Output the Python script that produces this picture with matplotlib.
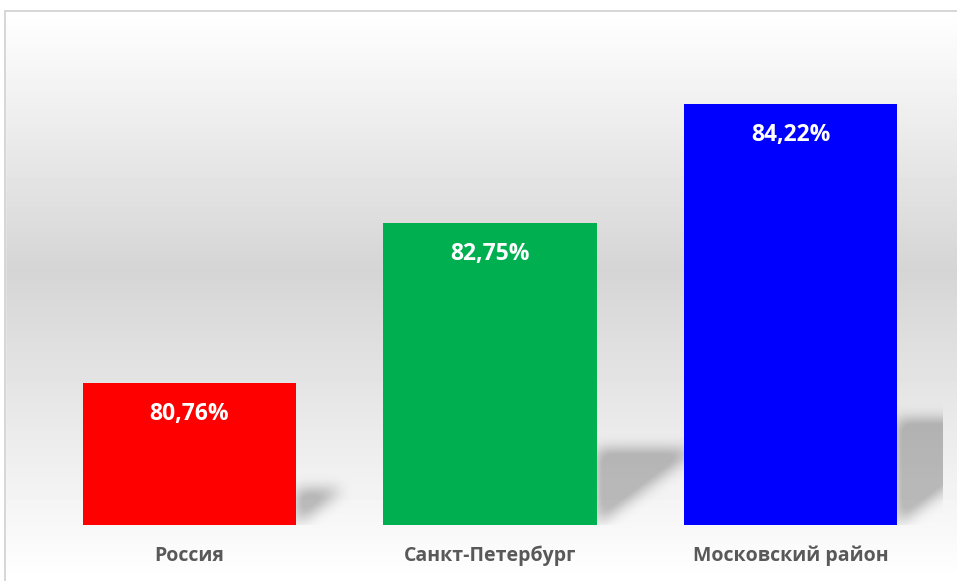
import matplotlib
matplotlib.use('Agg')
import matplotlib.pyplot as plt
from matplotlib.patches import Rectangle
import numpy as np

plt.rcParams['font.family'] = ['Open Sans', 'DejaVu Sans']

# data
categories = ['Россия', 'Санкт-Петербург', 'Московский район']
values = [80.76, 82.75, 84.22]
labels = ['80,76%', '82,75%', '84,22%']
bar_colors = ['#ff0000', '#00b050', '#0000ff']

W, H = 957, 581
fig = plt.figure(figsize=(W / 100, H / 100), dpi=100)

# background gradient (chart area)
bg = fig.add_axes([0, 0, 1, 1])
ys = np.linspace(0, 1, H)
stops_y = [0.0, 11 / H, 270 / H, 1.0]
stops_v = [1.0, 1.0, 0.835, 1.0]
grad = np.interp(ys, stops_y, stops_v)
bg.imshow(np.tile(grad[:, None], (1, 10)), cmap='gray', vmin=0, vmax=1,
          aspect='auto', extent=[0, 1, 0, 1], origin='upper')
bg.set_xlim(0, 1)
bg.set_ylim(0, 1)
bg.axis('off')
# white outside the outer border
bg.add_patch(Rectangle((0, 1 - 11 / H), 1, 11 / H, color='white', zorder=2))
bg.add_patch(Rectangle((0, 0), 5 / W, 1, color='white', zorder=2))
bg.add_patch(Rectangle((5 / W, -0.1), 1.1, 1 - 11 / H + 0.1, fill=False,
                       edgecolor='#d0d0d0', linewidth=1.2, zorder=3))

# plot area
ax = fig.add_axes([39 / W, 56 / H, 904 / W, 513 / H])
ax.patch.set_alpha(0)
ymin, ymax = 79.0, 85.36
x = np.arange(len(categories))
width = 0.71
xmax = len(categories) - 0.5 + 0.007
ax.set_xlim(-0.5, xmax)
ax.set_ylim(ymin, ymax)

# soft perspective shadows behind the bars (grid padded to the right so the
# plot-area edge stays sharp after blurring)
pad = 60
step = (xmax + 0.5) / 904
gx = -0.5 + step * (np.arange(904 + pad) + 0.5)
gy = np.linspace(ymax, ymin, 513)
GX, GY = np.meshgrid(gx, gy)
mask = np.zeros_like(GX)
k = 0.75 * (902 / 3.0) / (513 / (ymax - ymin))
for xi, v in zip(x, values):
    xr = xi + width / 2
    ytop = ymin + 0.25 * (v - ymin)
    m = (GX >= xr) & (GY <= ytop) & (GY >= ymin + k * (GX - xr))
    mask[m] = 1.0
kern = np.exp(-0.5 * (np.arange(-24, 25) / 7.0) ** 2)
kern /= kern.sum()
mask = np.apply_along_axis(lambda r: np.convolve(r, kern, mode='same'), 1, mask)
mask = np.apply_along_axis(lambda c: np.convolve(c, kern, mode='same'), 0, mask)
mask = mask[:, :904]
shadow = np.zeros((513, 904, 4))
shadow[..., 3] = 0.24 * np.clip(mask * 1.3, 0, 1)
ax.imshow(shadow, extent=[-0.5, xmax, ymin, ymax], aspect='auto',
          origin='upper', zorder=1)

bars = ax.bar(x, values, width=width, color=bar_colors, zorder=2, bottom=0)
ax.set_ylim(ymin, ymax)

for xi, v, lab in zip(x, values, labels):
    ax.annotate(lab, (xi, v), xytext=(0, -22.5), textcoords='offset points',
                ha='center', va='center', color='white', fontsize=16.5,
                fontweight='bold', zorder=3)

ax.set_xticks(x)
ax.set_xticklabels(categories, fontsize=14, fontweight='bold', color='#595959')
ax.tick_params(axis='x', length=0, pad=15)
ax.set_yticks([])
for s in ax.spines.values():
    s.set_visible(False)

fig.savefig('out.png', dpi=100)
